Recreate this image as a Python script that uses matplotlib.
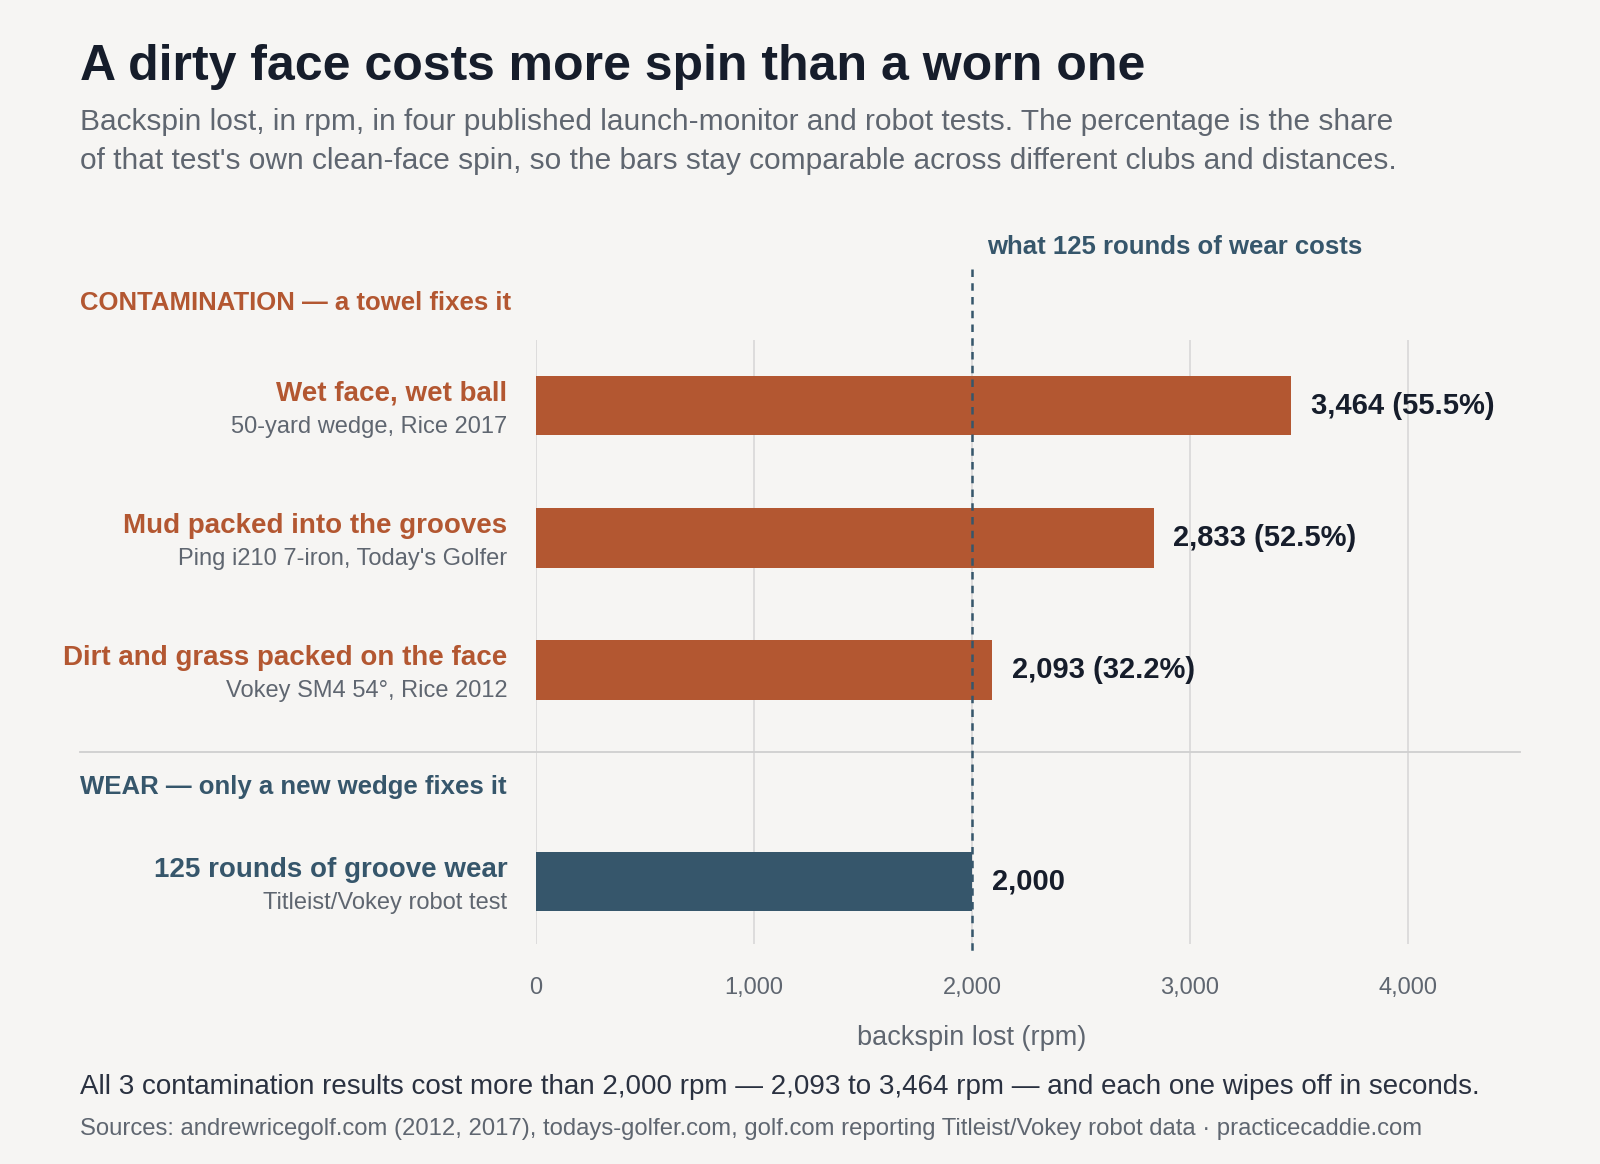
import matplotlib
matplotlib.use("Agg")
import matplotlib.pyplot as plt

plt.rcParams['font.family'] = ['Liberation Sans', 'DejaVu Sans']

labels = ["Wet face, wet ball", "Mud packed into the grooves",
          "Dirt and grass packed on the face", "125 rounds of groove wear"]
sublabels = ["50-yard wedge, Rice 2017", "Ping i210 7-iron, Today's Golfer",
             "Vokey SM4 54°, Rice 2012", "Titleist/Vokey robot test"]
values = [3464, 2833, 2093, 2000]
pcts = ["55.5%", "52.5%", "32.2%", None]
groups = ["contamination", "contamination", "contamination", "wear"]
xticks = [0, 1000, 2000, 3000, 4000]
wear_ref = 2000

W, H = 1568, 1141
BG = "#F6F5F3"; ORANGE = "#B35731"; BLUE = "#36566B"; DARK = "#161D2B"; GRAY = "#5F6670"
fig = plt.figure(figsize=(16, 16 * H / W), dpi=100, facecolor=BG)

def fx(px): return px / W
def fy(py): return 1 - py / H

XMAX = 4515
ax = fig.add_axes([fx(525), fy(925), fx(1490) - fx(525), fy(333) - fy(925)])
ax.set_facecolor(BG)
pos = [0, 1, 2, 3.6]
ax.set_ylim(4.07, -0.5)
ax.set_xlim(0, XMAX)
for s in ax.spines.values(): s.set_visible(False)
ax.set_xticks(xticks)
ax.set_xticklabels([f"{t:,}" for t in xticks], fontsize=17, color=GRAY)
ax.tick_params(axis='x', length=0, pad=24)
ax.set_yticks([])
ax.grid(axis='x', color="#D8D8D8", lw=1.2)
ax.set_axisbelow(True)
ax.set_xlabel("backspin lost (rpm)", fontsize=19.5, color=GRAY, labelpad=18)
ax.xaxis.set_label_coords(2000 / XMAX, -0.135)

lx = -(525 - 497) / 213.75 * 1000
for p, v, pc, g, lab, sub in zip(pos, values, pcts, groups, labels, sublabels):
    c = ORANGE if g == "contamination" else BLUE
    ax.barh(p, v, height=0.45, color=c, zorder=2)
    txt = f"{v:,}" + (f" ({pc})" if pc else "")
    ax.text(v + 90, p, txt, va='center', ha='left', fontsize=21, fontweight='bold', color=DARK)
    ax.text(lx, p - 0.09, lab, ha='right', va='center', fontsize=20,
            fontweight='bold', color=c, clip_on=False)
    ax.text(lx, p + 0.16, sub, ha='right', va='center', fontsize=17,
            color=GRAY, clip_on=False)

ax.plot([wear_ref, wear_ref], [-1.03, 4.15], ls=(0, (3, 2.5)), lw=1.8, color=BLUE,
        clip_on=False, zorder=3)
ax.text(wear_ref + 70, -1.2, "what 125 rounds of wear costs", fontsize=18.5, fontweight='bold',
        color=BLUE, va='center', ha='left', clip_on=False)
ax.plot([-(525 - 78) / 213.75 * 1000, XMAX], [2.62, 2.62], color="#CFCFCF", lw=1.3, clip_on=False)

fig.text(fx(78), fy(297), "CONTAMINATION — a towel fixes it", fontsize=18.5, fontweight='bold',
         color=ORANGE, va='center')
fig.text(fx(78), fy(771), "WEAR — only a new wedge fixes it", fontsize=18.5, fontweight='bold',
         color=BLUE, va='center')

fig.text(fx(78), fy(66), "A dirty face costs more spin than a worn one", fontsize=36,
         fontweight='bold', color=DARK, va='center')
fig.text(fx(78), fy(139), "Backspin lost, in rpm, in four published launch-monitor and robot tests. The percentage is the share\n"
         "of that test's own clean-face spin, so the bars stay comparable across different clubs and distances.",
         fontsize=21.5, color=GRAY, va='center', linespacing=1.5)
fig.text(fx(78), fy(1065), "All 3 contamination results cost more than 2,000 rpm — 2,093 to 3,464 rpm — and each one wipes off in seconds.",
         fontsize=20, color="#2A3140", va='center')
fig.text(fx(78), fy(1106), "Sources: andrewricegolf.com (2012, 2017), todays-golfer.com, golf.com reporting Titleist/Vokey robot data · practicecaddie.com",
         fontsize=17.2, color=GRAY, va='center')

fig.savefig("out.png", dpi=100, facecolor=BG)
